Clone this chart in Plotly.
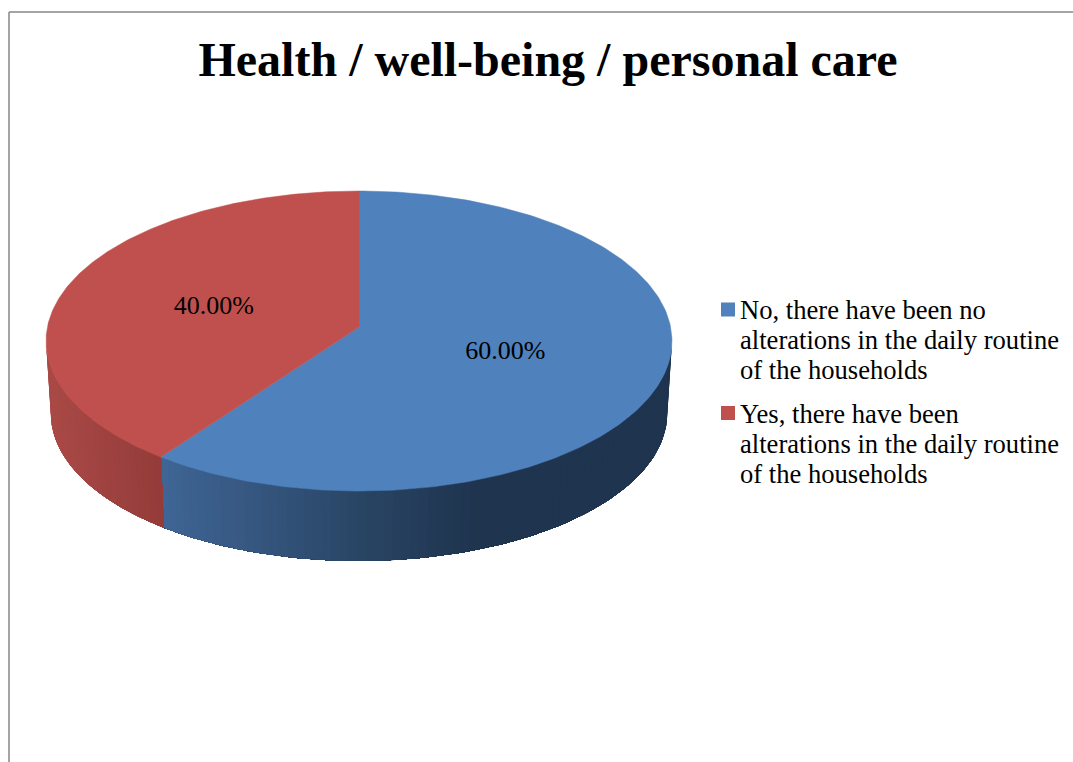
import numpy as np
import plotly.graph_objects as go

title = "Health / well-being / personal care"
categories = [
    ["No, there have been no", "alterations in the daily routine", "of the households"],
    ["Yes, there have been", "alterations in the daily routine", "of the households"],
]
values = [60.0, 40.0]
top_colors = ["#4f81bd", "#c0504d"]
label_radius = [0.487, 0.497]

# projection of the tilted disc onto the page (pixel-sized axes)
CX, CY, RX, RY, K = 359.0, 327.0, 311.6, 148.7, 0.0933
RIM_SCALE, RIM_DROP = 0.985, 72.5
LABEL_DY = 3
SIDE_STOPS = [
    ([160, 370, 480], [(64, 102, 150), (41, 68, 99), (31, 52, 79)]),
    ([48, 162], [(170, 74, 71), (148, 60, 58)]),
]
KEY_X, KEY_TEXT_X = 728, 740
KEY_LINE_Y = [[312, 342, 372.5], [416, 446, 476.5]]
KEY_SWATCH_Y = [309.5, 413]


def project(deg, r=1.0):
    t = np.radians(deg)
    u, v = r * np.sin(t), r * np.cos(t)
    w = 1 + K * v
    return CX + RX * u / w, CY - RY * v / w


def rim(deg):
    x, y = project(deg)
    return CX + (x - CX) * RIM_SCALE, CY + (y - CY) * RIM_SCALE + RIM_DROP


def shade(x, stops):
    xs, cols = stops
    return "rgb(%d,%d,%d)" % tuple(np.interp(x, xs, [c[i] for c in cols]) for i in range(3))


fig = go.Figure()

total = sum(values)
spans, start = [], 0.0
for val in values:
    spans.append((start, start + 360.0 * val / total))
    start += 360.0 * val / total

side_limit = np.degrees(np.arccos(-K))  # silhouette of the disc
for i, (a, b) in enumerate(spans):
    lo, hi = max(a, side_limit), min(b, 360 - side_limit)
    if hi <= lo:
        continue
    n = int((hi - lo) / 1.5) + 1
    edges = np.linspace(lo, hi, n + 1)
    # painted from the far end, each band lying over the rest, so no seams show
    order = edges[:-1] if i == 0 else edges[1:][::-1]
    step = (hi - lo) / n
    for e in order:
        arc = np.linspace(e, hi, max(int((hi - e) / 1.5) + 2, 3)) if i == 0 else np.linspace(lo, e, max(int((e - lo) / 1.5) + 2, 3))
        band = (e, e + step) if i == 0 else (e - step, e)
        tx, ty = project(arc)
        bx, by = rim(arc)
        col = shade(float(np.mean(project(np.array(band))[0])), SIDE_STOPS[i])
        fig.add_trace(go.Scatter(
            x=list(tx) + list(bx[::-1]), y=list(ty) + list(by[::-1]),
            mode="lines", fill="toself", fillcolor=col,
            line=dict(color=col, width=0), hoverinfo="skip", showlegend=False,
        ))

for i, (a, b) in enumerate(spans):
    arc = np.linspace(a, b, 240)
    ax, ay = project(arc)
    fig.add_trace(go.Scatter(
        x=[CX] + list(ax) + [CX], y=[CY] + list(ay) + [CY],
        mode="lines", fill="toself", fillcolor=top_colors[i],
        line=dict(color=top_colors[i], width=0.5), hoverinfo="skip", showlegend=False,
    ))

for i, (a, b) in enumerate(spans):
    lx, ly = project((a + b) / 2, label_radius[i])
    fig.add_trace(go.Scatter(
        x=[lx], y=[ly + LABEL_DY], mode="text", text=[f"{values[i]:.2f}%"],
        textposition="middle center",
        textfont=dict(family="Liberation Serif", size=26, color="#000000"),
        hoverinfo="skip", showlegend=False,
    ))

# key: swatch plus three lines of text, with the reference's tighter line spacing
for i, lines in enumerate(categories):
    fig.add_trace(go.Scatter(
        x=[KEY_X], y=[KEY_SWATCH_Y[i]], mode="markers",
        marker=dict(symbol="square", size=14, color=top_colors[i]),
        hoverinfo="skip", showlegend=False,
    ))
    fig.add_trace(go.Scatter(
        x=[KEY_TEXT_X] * len(lines), y=KEY_LINE_Y[i], mode="text", text=lines,
        textposition="middle right",
        textfont=dict(family="Liberation Serif", size=26.6, color="#000000"),
        hoverinfo="skip", showlegend=False,
    ))

fig.update_layout(
    width=1073, height=762, autosize=False,
    margin=dict(l=0, r=0, t=0, b=0),
    paper_bgcolor="white", plot_bgcolor="white",
    showlegend=False,
    title=dict(text=title, x=548 / 1073, xanchor="center", xref="paper",
               y=1 - 59 / 762, yanchor="middle", yref="paper",
               font=dict(family="Liberation Serif", size=48, color="#000000", weight="bold")),
    xaxis=dict(range=[0, 1073], visible=False, fixedrange=True),
    yaxis=dict(range=[762, 0], visible=False, fixedrange=True),
    shapes=[
        dict(type="line", xref="x", yref="y", x0=9, x1=9, y0=12, y1=762,
             line=dict(color="#868686", width=1.5)),
        dict(type="line", xref="x", yref="y", x0=9, x1=1073, y0=12, y1=12,
             line=dict(color="#868686", width=1.5)),
    ],
)
fig.write_html("out.html", config={"displayModeBar": False},
               post_script="document.body.style.margin='0';document.body.style.overflow='hidden';")
